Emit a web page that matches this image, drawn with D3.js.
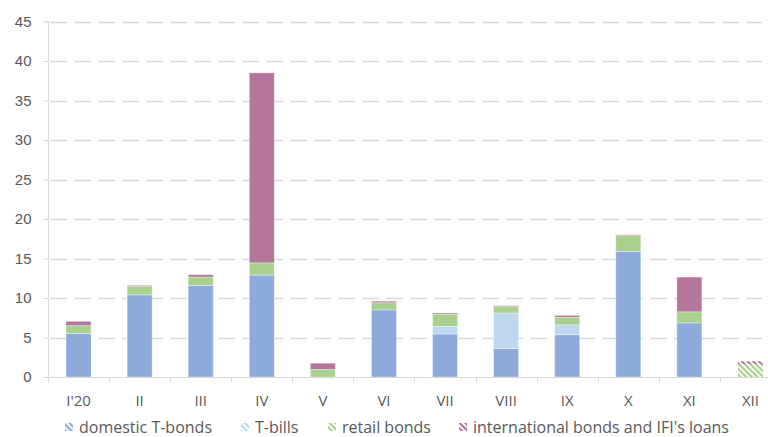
<!DOCTYPE html>
<html>
<head>
<meta charset="utf-8">
<script src="https://cdn.jsdelivr.net/npm/d3@7"></script>
<style>
  body { margin: 0; background: #fff; }
  svg { display: block; font-family: "Open Sans", sans-serif; }
</style>
</head>
<body>
<svg id="chart" width="768" height="437"></svg>
<script>
// months and the four financing sources (bn)
const months = ["I'20", "II", "III", "IV", "V", "VI", "VII", "VIII", "IX", "X", "XI", "XII"];
const domesticTBonds = [5.5, 10.4, 11.6, 12.9, 0, 8.5, 5.45, 3.6, 5.35, 15.9, 6.85, 0];
const tBills = [0, 0, 0, 0, 0, 0, 0.95, 4.5, 1.25, 0, 0, 0];
const retailBonds = [1.0, 1.05, 1.05, 1.55, 0.95, 0.9, 1.55, 0.8, 0.95, 2.0, 1.4, 1.6];
const intlBonds = [0.55, 0.15, 0.3, 24.05, 0.8, 0.2, 0.15, 0.12, 0.25, 0.1, 4.4, 0.4];
// months shown hatched (plan, not actual)
const plannedMonths = ["XII"];
const yTicks = [0, 5, 10, 15, 20, 25, 30, 35, 40, 45];

const seriesKeys = ["domestic", "tbills", "retail", "intl"];
const seriesNames = ["domestic T-bonds", "T-bills", "retail bonds", "international bonds and IFI's loans"];
const colors = { domestic: "#8eaadb", tbills: "#bdd7ee", retail: "#a9d18e", intl: "#b4769b" };

const rows = months.map((m, i) => ({
    month: m,
    domestic: domesticTBonds[i],
    tbills: tBills[i],
    retail: retailBonds[i],
    intl: intlBonds[i]
}));

const svg = d3.select("#chart");
const textColor = "#595959";
const lineColor = "#d9d9d9";

// hatch patterns, used for the planned month and the legend markers
const defs = svg.append("defs");
seriesKeys.forEach(k => {
    const p = defs.append("pattern")
        .attr("id", "hatch-" + k)
        .attr("patternUnits", "userSpaceOnUse")
        .attr("width", 4)
        .attr("height", 4)
        .attr("patternTransform", "rotate(-45)");
    p.append("rect").attr("width", 4).attr("height", 4).attr("fill", "#fff");
    p.append("rect").attr("width", 2.2).attr("height", 4).attr("fill", colors[k]);
});

const x = d3.scaleBand()
    .domain(months)
    .range([48, 781])
    .paddingInner(0.59)
    .paddingOuter(0.295);

const y = d3.scaleLinear()
    .domain([0, 45])
    .range([377, 21.5]);

// gridlines
svg.append("g")
    .selectAll("line")
    .data(yTicks.filter(t => t > 0))
    .join("line")
    .attr("x1", 48)
    .attr("x2", 762)
    .attr("y1", d => Math.round(y(d)) + 0.5)
    .attr("y2", d => Math.round(y(d)) + 0.5)
    .attr("stroke", lineColor)
    .attr("stroke-width", 1.6)
    .attr("stroke-dasharray", "17,7")
    .attr("stroke-dashoffset", -2);

// y axis
const yAxis = svg.append("g")
    .attr("transform", "translate(48.5,0)")
    .call(d3.axisLeft(y).tickValues(yTicks).tickSize(5).tickPadding(12));
yAxis.select(".domain").attr("stroke", lineColor).attr("d", `M-5,${y(45)}H0V${y(0)}`);
yAxis.selectAll(".tick line").attr("stroke", lineColor);
yAxis.selectAll(".tick text")
    .attr("fill", textColor)
    .style("font-size", "15px")
    .attr("x", -17);

// stacked bars
const stack = d3.stack().keys(seriesKeys);
const stacked = stack(rows);

svg.append("g")
    .selectAll("g")
    .data(stacked)
    .join("g")
    .each(function(layer) {
        d3.select(this).selectAll("rect")
            .data(layer.filter(d => d[1] - d[0] > 0))
            .join("rect")
            .attr("x", d => x(d.data.month))
            .attr("width", x.bandwidth())
            .attr("y", d => y(d[1]))
            .attr("height", d => y(d[0]) - y(d[1]))
            .attr("fill", d => plannedMonths.includes(d.data.month) ? `url(#hatch-${layer.key})` : colors[layer.key])
            .attr("stroke", d => plannedMonths.includes(d.data.month) ? "none" : "#fff")
            .attr("stroke-opacity", 0.45)
            .attr("stroke-width", 0.8);
    });

// x axis with ticks at band boundaries
const xAxisG = svg.append("g").attr("transform", "translate(0,377.5)");
xAxisG.append("line")
    .attr("x1", 48).attr("x2", 768)
    .attr("stroke", lineColor).attr("stroke-width", 1);
xAxisG.selectAll(".bound")
    .data(months)
    .join("line")
    .attr("class", "bound")
    .attr("x1", d => Math.round(x(d) - x.step() * x.paddingOuter()) + 0.5)
    .attr("x2", d => Math.round(x(d) - x.step() * x.paddingOuter()) + 0.5)
    .attr("y1", 0).attr("y2", 5)
    .attr("stroke", lineColor);
xAxisG.selectAll("text")
    .data(months)
    .join("text")
    .attr("x", d => x(d) + x.bandwidth() / 2)
    .attr("y", 28)
    .attr("text-anchor", "middle")
    .attr("fill", textColor)
    .style("font-size", "15px")
    .text(d => d);

// legend
const legendX = [65, 241, 328, 459];
const legend = svg.append("g").attr("transform", "translate(0,423)");
seriesKeys.forEach((k, i) => {
    legend.append("rect")
        .attr("x", legendX[i])
        .attr("y", 0)
        .attr("width", 8)
        .attr("height", 8)
        .attr("fill", `url(#hatch-${k})`);
    legend.append("text")
        .attr("x", legendX[i] + 14)
        .attr("y", 9.5)
        .attr("fill", textColor)
        .style("font-size", "16px")
        .text(seriesNames[i]);
});
</script>
</body>
</html>
